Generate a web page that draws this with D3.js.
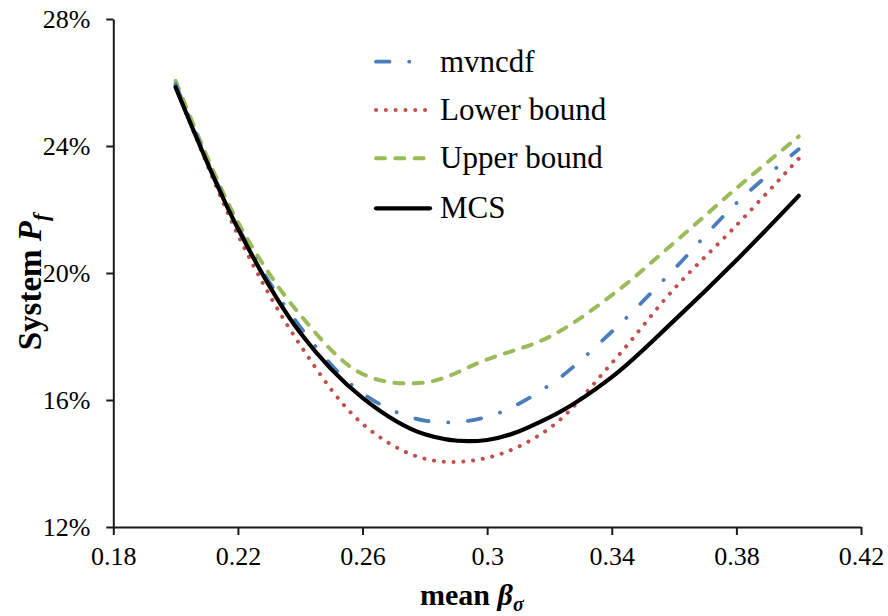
<!DOCTYPE html>
<html>
<head>
<meta charset="utf-8">
<script src="https://cdn.jsdelivr.net/npm/d3@7"></script>
<style>
  html, body { margin: 0; padding: 0; background: #fff; }
  svg { display: block; }
</style>
</head>
<body>
<svg id="chart" width="888" height="616" font-family="Liberation Serif"></svg>
<script>
// ---- data ----
const meanBeta = [0.20, 0.22, 0.24, 0.26, 0.28, 0.30, 0.32, 0.34, 0.36, 0.38, 0.40];
const mvncdf     = [25.95, 21.45, 18.30, 16.21, 15.35, 15.47, 16.47, 18.15, 20.12, 22.20, 23.90];
const lowerBound = [25.90, 21.20, 17.73, 15.25, 14.15, 14.18, 15.11, 17.16, 19.50, 21.50, 23.60];
const upperBound = [26.05, 21.60, 18.68, 16.82, 16.55, 17.28, 17.99, 19.30, 20.95, 22.67, 24.30];
const mcs        = [25.85, 21.40, 18.12, 16.07, 14.92, 14.74, 15.45, 16.72, 18.50, 20.40, 22.43];

const xTicks = [0.18, 0.22, 0.26, 0.30, 0.34, 0.38, 0.42];
const xTickLabels = ["0.18", "0.22", "0.26", "0.3", "0.34", "0.38", "0.42"];
const yTicks = [12, 16, 20, 24, 28];
const yTickLabels = ["12%", "16%", "20%", "24%", "28%"];

const seriesNames = ["mvncdf", "Lower bound", "Upper bound", "MCS"];

const FONT = "Liberation Serif";

// ---- styling ----
const styles = {
  "mvncdf":      { color: "#4A7EBB", width: 3.8, dash: "13.5 19.7 0.1 19.7", cap: "round" },
  "Lower bound": { color: "#C0504D", width: 4,   dash: "0.1 9.7",            cap: "round" },
  "Upper bound": { color: "#9BBB59", width: 4,   dash: "9 10.3",             cap: "round" },
  "MCS":         { color: "#000000", width: 4.2, dash: null,                 cap: "round" }
};
const seriesData = {
  "mvncdf": mvncdf, "Lower bound": lowerBound, "Upper bound": upperBound, "MCS": mcs
};

const svg = d3.select("#chart");
const x = d3.scaleLinear().domain([0.18, 0.42]).range([113.3, 861]);
const y = d3.scaleLinear().domain([12, 28]).range([527, 19]);

// axes
const xAxis = d3.axisBottom(x).tickValues(xTicks)
  .tickFormat((d, i) => xTickLabels[i]).tickSizeInner(8).tickSizeOuter(0).tickPadding(10);
const yAxis = d3.axisLeft(y).tickValues(yTicks)
  .tickFormat((d, i) => yTickLabels[i]).tickSizeInner(7).tickSizeOuter(0).tickPadding(16);

const gx = svg.append("g").attr("transform", `translate(0,${y(12)})`).call(xAxis);
const gy = svg.append("g").attr("transform", `translate(${x(0.18)},0)`).call(yAxis);
[gx, gy].forEach(g => {
  g.attr("font-family", FONT).attr("font-size", 26);
  g.select(".domain").attr("stroke", "#1a1a1a").attr("stroke-width", 2);
  g.selectAll(".tick line").attr("stroke", "#1a1a1a").attr("stroke-width", 2);
  g.selectAll(".tick text").attr("font-size", 26)
    .attr("font-family", FONT).attr("fill", "#000");
});
gy.selectAll(".tick text").attr("dy", "0.34em");
gx.selectAll(".tick text").attr("dy", "0.78em");

// lines
const line = d3.line()
  .x((d, i) => x(meanBeta[i]))
  .y(d => y(d))
  .curve(d3.curveCatmullRom.alpha(0.5));

const drawOrder = ["Upper bound", "Lower bound", "mvncdf", "MCS"];
drawOrder.forEach(name => {
  const s = styles[name];
  svg.append("path")
    .datum(seriesData[name])
    .attr("d", line)
    .attr("fill", "none")
    .attr("stroke", s.color)
    .attr("stroke-width", s.width)
    .attr("stroke-linecap", s.cap)
    .attr("stroke-linejoin", "round")
    .attr("stroke-dasharray", s.dash);
});

// legend
const legendRows = [61.7, 110, 158.3, 208.3];
const legend = svg.append("g");
seriesNames.forEach((name, i) => {
  const s = styles[name];
  const ly = legendRows[i];
  legend.append("line")
    .attr("x1", 376).attr("x2", name === "mvncdf" ? 420 : 430)
    .attr("y1", ly).attr("y2", ly)
    .attr("stroke", s.color)
    .attr("stroke-width", s.width)
    .attr("stroke-linecap", s.cap)
    .attr("stroke-dasharray", s.dash);
  legend.append("text")
    .attr("x", 440).attr("y", ly + 10)
    .attr("font-family", FONT)
    .attr("font-size", 31)
    .attr("fill", "#000")
    .text(name);
});

// axis titles
const xt = svg.append("text")
  .attr("x", 420).attr("y", 605)
  .attr("font-family", FONT)
  .attr("font-size", 30).attr("font-weight", "bold").attr("fill", "#000");
xt.append("tspan").text("mean ");
xt.append("tspan").attr("font-style", "italic").text("β");
xt.append("tspan").attr("font-style", "italic").attr("font-size", 20).attr("dy", 6).text("σ");

const yt = svg.append("text")
  .attr("transform", "translate(41,282) rotate(-90)")
  .attr("text-anchor", "middle")
  .attr("font-family", FONT)
  .attr("font-size", 33).attr("font-weight", "bold").attr("fill", "#000");
yt.append("tspan").text("System ");
yt.append("tspan").attr("font-style", "italic").text("P");
yt.append("tspan").attr("font-style", "italic").attr("font-size", 22).attr("dy", 7).text("f");
</script>
</body>
</html>
